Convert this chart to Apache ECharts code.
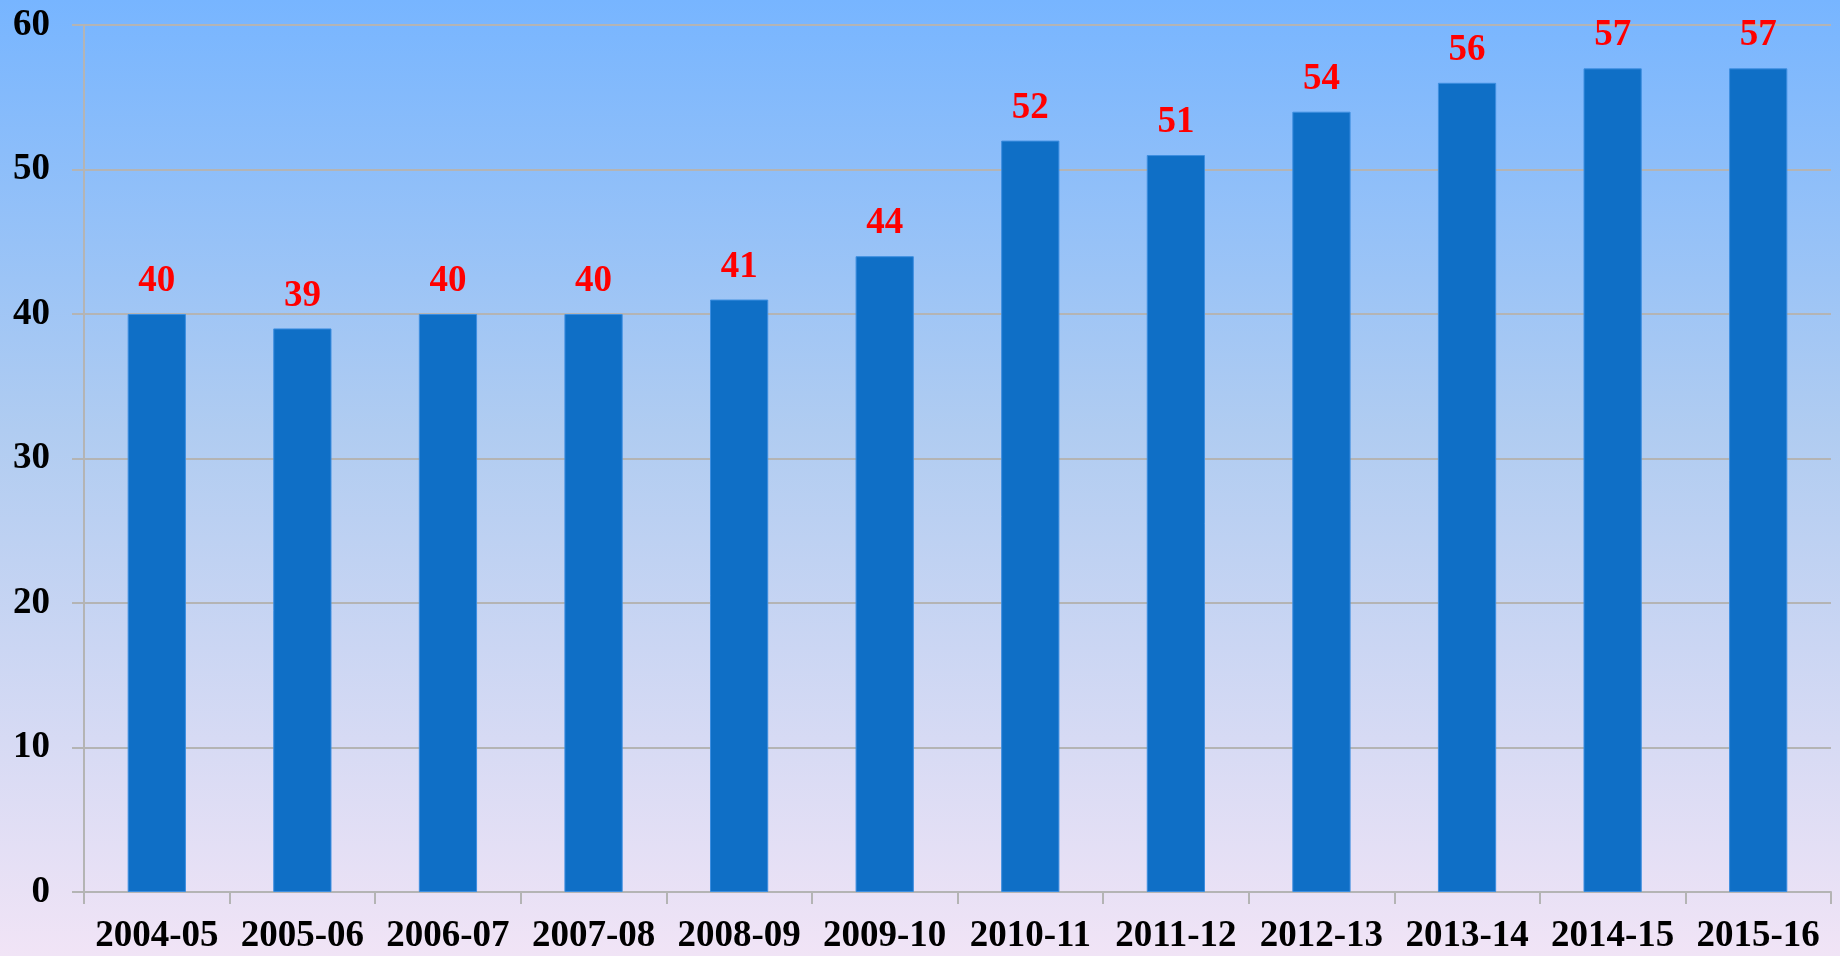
<!DOCTYPE html>
<html>
<head>
<meta charset="utf-8">
<script src="https://cdn.jsdelivr.net/npm/echarts@6/dist/echarts.min.js"></script>
<style>
  html, body { margin: 0; padding: 0; }
  #main { width: 1840px; height: 956px; }
</style>
</head>
<body>
<div id="main"></div>
<script>
// data
var years = ['2004-05', '2005-06', '2006-07', '2007-08', '2008-09', '2009-10',
             '2010-11', '2011-12', '2012-13', '2013-14', '2014-15', '2015-16'];
var values = [40, 39, 40, 40, 41, 44, 52, 51, 54, 56, 57, 57];
var yTicks = [0, 10, 20, 30, 40, 50, 60];

var font = '"Liberation Serif", "DejaVu Serif", serif';

var chart = echarts.init(document.getElementById('main'));
var option = {
  backgroundColor: new echarts.graphic.LinearGradient(0, 0, 0, 1, [
    { offset: 0, color: '#77b5ff' },
    { offset: 0.45, color: '#b0ccf1' },
    { offset: 1, color: '#f1e4f6' }
  ]),
  animation: false,
  grid: { left: 84, right: 9, top: 25, bottom: 64 },
  xAxis: {
    type: 'category',
    data: years,
    axisLine: { lineStyle: { color: '#b4b4b4', width: 2 } },
    axisTick: { show: true, length: 12, lineStyle: { color: '#b4b4b4', width: 2 } },
    axisLabel: {
      interval: 0,
      color: '#000', fontFamily: font, fontWeight: 'bold', fontSize: 37, margin: 26
    }
  },
  yAxis: {
    type: 'value',
    min: yTicks[0],
    max: yTicks[yTicks.length - 1],
    interval: 10,
    axisLine: { show: true, lineStyle: { color: '#b4b4b4', width: 2 } },
    axisTick: { show: true, length: 12, lineStyle: { color: '#b4b4b4', width: 2 } },
    splitLine: { lineStyle: { color: '#b4b4b4', width: 2 } },
    axisLabel: {
      color: '#000', fontFamily: font, fontWeight: 'bold', fontSize: 37, margin: 34
    }
  },
  series: [{
    type: 'bar',
    data: values,
    barWidth: '40%',
    itemStyle: { color: '#0f6fc6', borderColor: '#3d8ee0', borderWidth: 1 },
    label: {
      show: true,
      position: 'top',
      distance: 14,
      color: '#ff0000',
      fontFamily: font,
      fontWeight: 'bold',
      fontSize: 37
    }
  }]
};
chart.setOption(option);
</script>
</body>
</html>
